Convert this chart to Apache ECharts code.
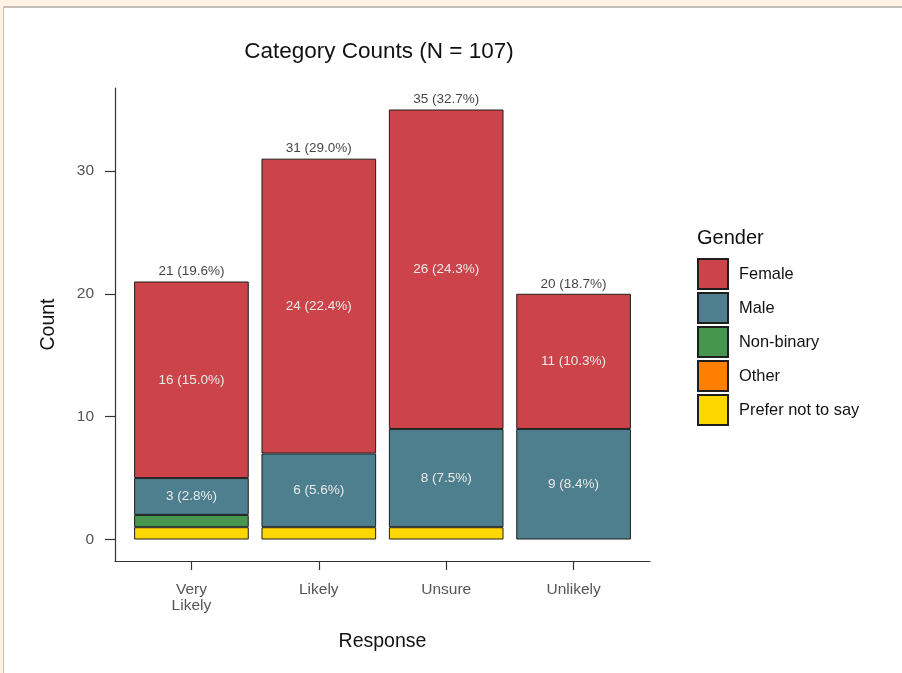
<!DOCTYPE html>
<html>
<head>
<meta charset="utf-8">
<script src="https://cdn.jsdelivr.net/npm/echarts@6/dist/echarts.min.js"></script>
<style>
  html, body { margin: 0; padding: 0; background: #fdf2e4; }
  #frame { position: absolute; left: 3px; top: 6px; width: 899px; height: 667px;
           background: #ffffff; border-left: 1px solid #c6c0b7; border-top: 2px solid #c6c0b7; box-sizing: border-box; }
  #chart { position: absolute; left: 0; top: 0; width: 902px; height: 673px; }
</style>
</head>
<body>
<div id="frame"></div>
<div id="chart"></div>
<script>
// Response categories and counts per gender
const categories = ['Very\nLikely', 'Likely', 'Unsure', 'Unlikely'];
const female = [16, 24, 26, 11];
const male = [3, 6, 8, 9];
const nonBinary = [1, 0, 0, 0];
const other = [0, 0, 0, 0];
const preferNot = [1, 1, 1, 0];
const yTicks = [0, 10, 20, 30];

const N = 107;
const totals = categories.map((_, i) => female[i] + male[i] + nonBinary[i] + other[i] + preferNot[i]);
const pct = v => (v / N * 100).toFixed(1) + '%';

const FONT = 'Liberation Sans, Arial, sans-serif';
const border = { borderColor: '#1e1e1e', borderWidth: 1 };

// Panel: 4 bands with 0.6 band of padding on each side of the outer bars
const PANEL_L = 115, PANEL_W = 535, PANEL_T = 88, PANEL_H = 473;
const band = PANEL_W / 4.2;
const Y_MIN = -1.75, Y_MAX = 36.75;

function mk(name, values, color, withLabel) {
  return {
    name: name,
    type: 'bar',
    stack: 'all',
    xAxisIndex: 1, yAxisIndex: 1,
    barWidth: '90%',
    data: values.map(v => (v === 0 ? null : v)),
    itemStyle: Object.assign({ color: color }, border),
    label: {
      show: withLabel,
      position: 'inside',
      color: '#e9e9e9',
      fontFamily: FONT,
      fontSize: 13.5,
      formatter: p => p.value + ' (' + pct(p.value) + ')'
    },
    emphasis: { disabled: true },
    animation: false
  };
}

const chart = echarts.init(document.getElementById('chart'), null, { renderer: 'canvas' });
chart.setOption({
  backgroundColor: 'transparent',
  animation: false,
  grid: [
    { left: PANEL_L, top: PANEL_T, width: PANEL_W, height: PANEL_H },
    { left: PANEL_L + 0.1 * band, top: PANEL_T, width: 4 * band, height: PANEL_H }
  ],
  xAxis: [{
    gridIndex: 0,
    type: 'value', min: 0.4, max: 4.6,
    name: 'Response', nameLocation: 'middle', nameGap: 71,
    nameTextStyle: { fontFamily: FONT, fontSize: 19.5, color: '#111' },
    splitLine: { show: false },
    axisLine: { show: true, onZero: false, lineStyle: { color: '#333', width: 1.2 } },
    axisTick: { show: true, length: 9, customValues: [1, 2, 3, 4], lineStyle: { color: '#333', width: 1.2 } },
    axisLabel: {
      customValues: [1, 2, 3, 4], margin: 21,
      fontFamily: FONT, fontSize: 15.5, color: '#555', lineHeight: 16,
      formatter: v => categories[Math.round(v) - 1]
    }
  }, {
    gridIndex: 1,
    type: 'category', data: categories, boundaryGap: true,
    axisLine: { show: false }, axisTick: { show: false }, axisLabel: { show: false },
    splitLine: { show: false }
  }],
  yAxis: [{
    gridIndex: 0,
    type: 'value', min: Y_MIN, max: Y_MAX,
    name: 'Count', nameLocation: 'middle', nameGap: 56, nameRotate: 90,
    nameTextStyle: { fontFamily: FONT, fontSize: 19.5, color: '#111' },
    splitLine: { show: false },
    axisLine: { show: true, onZero: false, lineStyle: { color: '#333', width: 1.2 } },
    axisTick: { show: true, length: 10, customValues: yTicks, lineStyle: { color: '#333', width: 1.2 } },
    axisLabel: { customValues: yTicks, margin: 21, fontFamily: FONT, fontSize: 15.5, color: '#555' }
  }, {
    gridIndex: 1,
    type: 'value', min: Y_MIN, max: Y_MAX,
    axisLine: { show: false }, axisTick: { show: false }, axisLabel: { show: false },
    splitLine: { show: false }
  }],
  legend: {
    orient: 'vertical', left: 697, top: 258, padding: 0,
    data: ['Female', 'Male', 'Non-binary', 'Other', 'Prefer not to say'],
    itemWidth: 30, itemHeight: 30, itemGap: 2,
    icon: 'rect',
    selectedMode: false,
    textStyle: { fontFamily: FONT, fontSize: 16.4, color: '#111', padding: [0, 0, 0, 6] }
  },
  graphic: [{
    type: 'text', x: 379, y: 52,
    style: { text: 'Category Counts (N = 107)', align: 'center', verticalAlign: 'middle',
             fontFamily: FONT, fontSize: 22.5, fill: '#111' }
  }, {
    type: 'text', left: 697, top: 228,
    style: { text: 'Gender', fontFamily: FONT, fontSize: 20, fill: '#111' }
  }],
  series: [
    mk('Prefer not to say', preferNot, '#ffd700', false),
    mk('Other', other, '#ff7f00', false),
    mk('Non-binary', nonBinary, '#46964f', false),
    mk('Male', male, '#4e7f8e', true),
    mk('Female', female, '#cc444a', true),
    {
      name: 'Total', type: 'scatter', symbolSize: 0,
      xAxisIndex: 1, yAxisIndex: 1,
      data: totals,
      label: {
        show: true, position: 'top', distance: 3,
        fontFamily: FONT, fontSize: 13.5, color: '#111',
        formatter: p => p.value + ' (' + pct(p.value) + ')'
      },
      emphasis: { disabled: true },
      silent: true, animation: false
    }
  ]
});
</script>
</body>
</html>
